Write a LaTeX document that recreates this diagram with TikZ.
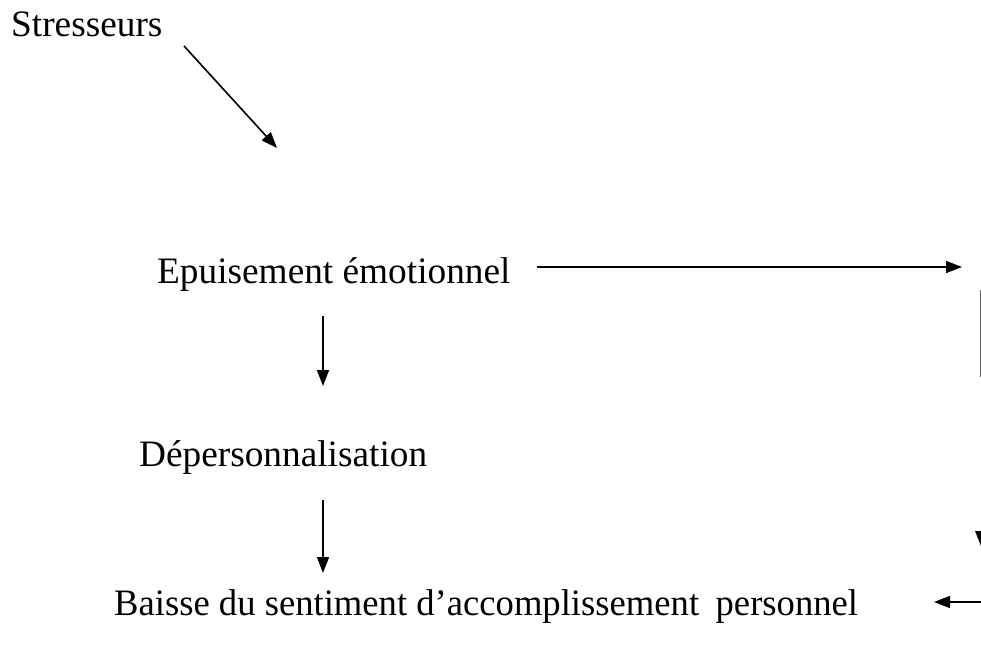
\documentclass[tikz,border=0pt]{standalone}
\usepackage{fontspec}
\setmainfont{Liberation Serif}
\usetikzlibrary{arrows.meta}
\begin{document}
\begin{tikzpicture}[x=1pt,y=-1pt,
  lbl/.style={anchor=base west,inner sep=0pt,font=\fontsize{37.3}{44}\selectfont},
  conn/.style={line width=1.6pt,-{Triangle[length=16pt,width=12pt]}}]
\useasboundingbox (0,0) rectangle (981,655);
\clip (0,0) rectangle (981,655);
\node[lbl] (s) at (11,37) {Stresseurs};
\node[lbl] (e) at (157,283) {Epuisement émotionnel};
\node[lbl] (d) at (139,466) {Dépersonnalisation};
\node[lbl,xscale=0.982] (b) at (114,615) {Baisse du sentiment d’accomplissement\hspace{0.45em}personnel};
\coordinate (a1s) at (184,46);
\coordinate (a1e) at (277,148);
\coordinate (h1s) at (537,267);
\coordinate (h1e) at (962,267);
\coordinate (v1s) at (323,316);
\coordinate (v1e) at (323,386);
\coordinate (v2s) at (323,500);
\coordinate (v2e) at (323,573);
\coordinate (bs) at (990,602);
\coordinate (be) at (934,602);
\coordinate (rs) at (980,290);
\coordinate (re) at (980,377);
\draw[conn] (a1s) -- (a1e);
\draw[conn] (h1s) -- (h1e);
\draw[conn] (v1s) -- (v1e);
\draw[conn] (v2s) -- (v2e);
\draw[conn] (bs) -- (be);
\draw[line width=1pt,black!60] (rs) -- (re);
\fill (975,531) -- (987,531) -- (981,546) -- cycle;
\end{tikzpicture}
\end{document}
